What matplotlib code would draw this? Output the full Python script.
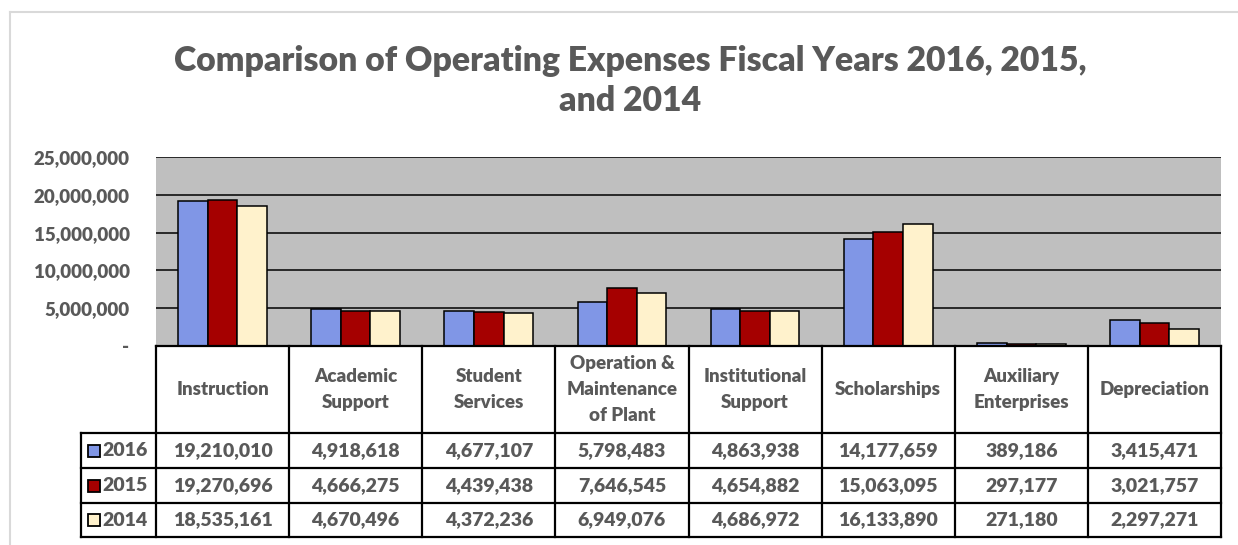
import numpy as np
import matplotlib
matplotlib.use("Agg")
import matplotlib.pyplot as plt
from matplotlib.lines import Line2D

# data
categories = ["Instruction", "Academic\nSupport", "Student\nServices",
              "Operation &\nMaintenance\nof Plant", "Institutional\nSupport",
              "Scholarships", "Auxiliary\nEnterprises", "Depreciation"]
years = ["2016", "2015", "2014"]
v2016 = [19210010, 4918618, 4677107, 5798483, 4863938, 14177659, 389186, 3415471]
v2015 = [19270696, 4666275, 4439438, 7646545, 4654882, 15063095, 297177, 3021757]
v2014 = [18535161, 4670496, 4372236, 6949076, 4686972, 16133890, 271180, 2297271]
yticks = [0, 5000000, 10000000, 15000000, 20000000, 25000000]
title = "Comparison of Operating Expenses Fiscal Years 2016, 2015,\nand 2014"

colors = ["#8096E6", "#A50000", "#FFF2CC"]
txt = "#595959"
wt = "heavy"
plt.rcParams["font.family"] = ["Lato", "DejaVu Sans"]
plt.rcParams["font.weight"] = wt

W, H = 1238, 545
fig = plt.figure(figsize=(W / 100, H / 100), dpi=100)


def box(l, t, r, b):
    return [l / W, 1 - b / H, (r - l) / W, (b - t) / H]


# outer chart border (light grey)
fig.add_artist(Line2D([10 / W, 1], [1 - 12 / H] * 2, transform=fig.transFigure, color="#D9D9D9", lw=1.5))
fig.add_artist(Line2D([10 / W] * 2, [0, 1 - 12 / H], transform=fig.transFigure, color="#D9D9D9", lw=1.5))

fig.text(630 / W, 1 - 81 / H, title, ha="center", va="center", fontsize=24.3,
         fontweight=wt, color=txt, linespacing=1.27)

# bars
ax = fig.add_axes(box(156, 157, 1221, 346))
ax.set_facecolor("#BFBFBF")
x = np.arange(len(categories))
bw = 0.222
for i, vals in enumerate([v2016, v2015, v2014]):
    ax.bar(x + (i - 1) * bw, vals, bw, color=colors[i], edgecolor="black", lw=1.1, zorder=3)
ax.set_xlim(-0.5, len(categories) - 0.5)
ax.set_ylim(0, 25000000)
ax.set_yticks(yticks)
ax.set_yticklabels(["-" if v == 0 else f"{v:,}" for v in yticks])
ax.tick_params(axis="y", length=0, pad=19, labelsize=13.5, labelcolor=txt)
ax.set_xticks([])
ax.yaxis.grid(True, color="black", lw=1.1)
ax.set_axisbelow(True)
for s in ax.spines.values():
    s.set_visible(False)

# data table underneath
leg_w = 75.3 / 133.1
xmin = -0.5 - leg_w
xmax = len(categories) - 0.5
tab = fig.add_axes(box(80.7, 346, 1221, 537))
tab.set_xlim(xmin, xmax)
tab.set_ylim(191, 0)
tab.axis("off")
rows = [0, 87, 122, 157, 191]
lk = dict(color="black", lw=1.6, clip_on=False, solid_capstyle="projecting")
tab.plot([-0.5, xmax], [0, 0], **lk)
for r in rows[1:]:
    tab.plot([xmin, xmax], [r, r], **lk)
for k in range(len(categories) + 1):
    tab.plot([k - 0.5, k - 0.5], [0, 191], **lk)
tab.plot([xmin, xmin], [87, 191], **lk)

for k, c in enumerate(categories):
    tab.text(k, 43.5, c, ha="center", va="center", fontsize=13.5, color=txt, linespacing=1.62)
for j, (yr, vals) in enumerate(zip(years, [v2016, v2015, v2014])):
    yc = (rows[j + 1] + rows[j + 2]) / 2
    tab.plot(xmin + 13 / 133.1, yc, marker="s", ms=9, mfc=colors[j], mec="black", mew=1.3, clip_on=False)
    tab.text(xmin + 22 / 133.1, yc, yr, ha="left", va="center", fontsize=14, color=txt)
    for k, v in enumerate(vals):
        tab.text(k, yc, f"{v:,}", ha="center", va="center", fontsize=14, color=txt)

fig.savefig("out.png", dpi=100)
